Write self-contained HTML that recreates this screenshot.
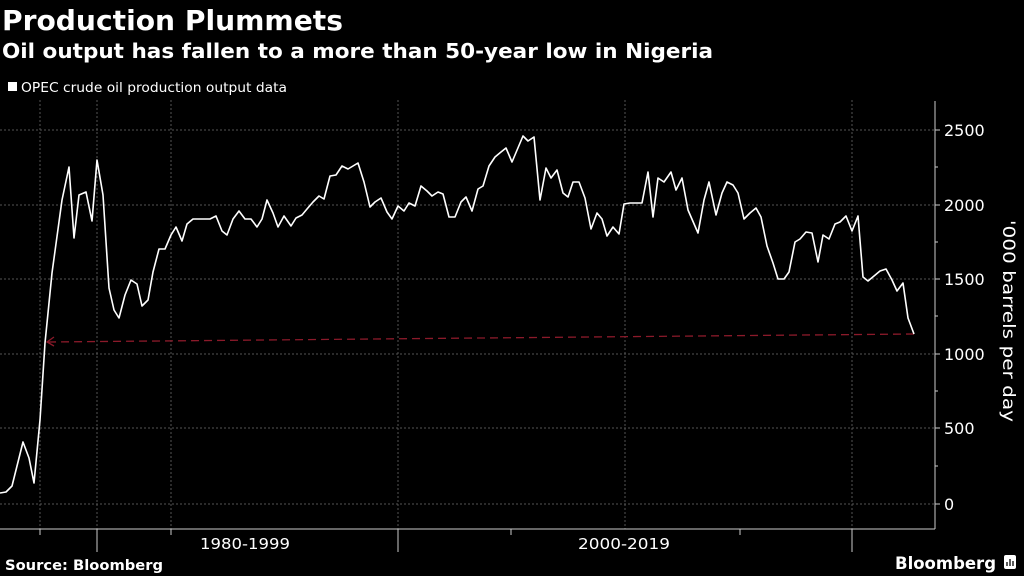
<!DOCTYPE html>
<html><head><meta charset="utf-8"><style>
html,body{margin:0;padding:0;background:#000;width:1024px;height:576px;overflow:hidden}
svg{display:block}
text{font-family:"DejaVu Sans","Liberation Sans",sans-serif;fill:#fff}
</style></head><body>
<svg width="1024" height="576" viewBox="0 0 1024 576">
<rect width="1024" height="576" fill="#000"/>
<text x="2" y="30" font-size="28" font-weight="bold" textLength="341" lengthAdjust="spacingAndGlyphs">Production Plummets</text>
<text x="2" y="58" font-size="20" font-weight="bold" textLength="711" lengthAdjust="spacingAndGlyphs">Oil output has fallen to a more than 50-year low in Nigeria</text>
<rect x="8" y="82" width="9" height="9" fill="#fff"/>
<text x="21" y="92" font-size="13" textLength="266" lengthAdjust="spacingAndGlyphs">OPEC crude oil production output data</text>
<g stroke="#555" stroke-width="1" stroke-dasharray="2,2">
<line x1="0" y1="130" x2="935" y2="130"/><line x1="0" y1="205" x2="935" y2="205"/>
<line x1="0" y1="279" x2="935" y2="279"/><line x1="0" y1="354" x2="935" y2="354"/>
<line x1="0" y1="428" x2="935" y2="428"/><line x1="0" y1="504" x2="935" y2="504"/>
<line x1="40" y1="100" x2="40" y2="529"/><line x1="97" y1="100" x2="97" y2="529"/>
<line x1="171" y1="100" x2="171" y2="529"/><line x1="398" y1="100" x2="398" y2="529"/>
<line x1="625" y1="100" x2="625" y2="529"/><line x1="852" y1="100" x2="852" y2="529"/>
</g>
<g stroke="#ccc" stroke-width="1">
<line x1="935" y1="101" x2="935" y2="529"/>
<line x1="0" y1="529" x2="935" y2="529"/>
<line x1="935" y1="130" x2="940" y2="130"/><line x1="935" y1="167" x2="938" y2="167"/>
<line x1="935" y1="205" x2="940" y2="205"/><line x1="935" y1="242" x2="938" y2="242"/>
<line x1="935" y1="279" x2="940" y2="279"/><line x1="935" y1="316" x2="938" y2="316"/>
<line x1="935" y1="354" x2="940" y2="354"/><line x1="935" y1="391" x2="938" y2="391"/>
<line x1="935" y1="428" x2="940" y2="428"/><line x1="935" y1="466" x2="938" y2="466"/>
<line x1="935" y1="504" x2="940" y2="504"/>
<line x1="97" y1="529" x2="97" y2="552"/><line x1="398" y1="529" x2="398" y2="552"/><line x1="852" y1="529" x2="852" y2="552"/>
<line x1="40" y1="529" x2="40" y2="535"/><line x1="171" y1="529" x2="171" y2="535"/>
<line x1="511" y1="529" x2="511" y2="535"/><line x1="740" y1="529" x2="740" y2="535"/>
</g>
<g font-size="16">
<text x="944" y="136">2500</text><text x="944" y="211">2000</text>
<text x="944" y="285">1500</text><text x="944" y="360">1000</text>
<text x="944" y="434">500</text><text x="944" y="510">0</text>
</g>
<text transform="translate(1003,220) rotate(90)" font-size="17" textLength="202" lengthAdjust="spacingAndGlyphs">'000 barrels per day</text>
<text x="200" y="549" font-size="15" textLength="90" lengthAdjust="spacingAndGlyphs">1980-1999</text>
<text x="578" y="549" font-size="15" textLength="92" lengthAdjust="spacingAndGlyphs">2000-2019</text>
<line x1="914" y1="334" x2="48" y2="342" stroke="#8b1a2a" stroke-width="1.3" stroke-dasharray="8,5"/>
<polyline points="54,337 47,342 54,346" fill="none" stroke="#8b1a2a" stroke-width="1.3"/>
<polyline fill="none" stroke="#fff" stroke-width="1.6" stroke-linejoin="round" points="0,493 6,492 12,486 23,442 29,458 34,483 40,420 45,343 52,273 62,200 69,167 74,238 79,195 86,192 92,221 97,160 103,195 109,288 114,310 119,318 125,295 131,280 137,284 142,306 148,300 153,272 159,249 165,249 171,235 176,227 182,241 187,224 193,219 210,219 216,216 222,231 227,235 233,219 239,211 245,219 251,219 257,227 262,219 267,200 273,213 278,227 284,216 291,226 296,218 302,215 307,209 313,202 319,196 324,199 330,176 336,175 342,166 348,169 358,163 364,182 370,207 375,202 381,198 387,212 392,219 398,206 404,211 409,203 415,206 421,186 427,191 432,196 438,192 443,194 449,217 455,217 461,202 466,197 472,211 478,189 483,186 489,166 495,157 501,152 506,148 512,162 523,136 528,141 534,137 540,200 546,168 551,178 557,170 563,193 568,197 573,182 579,182 585,198 591,229 597,213 602,219 607,236 613,227 619,234 624,204 630,203 642,203 648,172 653,217 658,178 664,182 671,172 676,190 682,178 688,210 698,233 704,200 709,182 716,215 722,193 727,182 733,185 738,193 744,219 750,213 756,208 761,217 767,246 773,263 778,279 784,279 789,272 795,242 800,239 806,232 812,233 818,262 823,235 829,239 835,224 840,222 846,216 852,231 858,216 863,277 868,281 874,276 880,271 886,269 892,280 897,291 903,283 908,318 914,334"/>
<text x="5" y="570" font-size="14" font-weight="bold" textLength="158" lengthAdjust="spacingAndGlyphs">Source: Bloomberg</text>
<text x="895" y="569" font-size="17" font-weight="bold" textLength="101" lengthAdjust="spacingAndGlyphs">Bloomberg</text>
<rect x="1004" y="555" width="12" height="14" rx="2" fill="#fff"/>
<g stroke="#000" stroke-width="1.3"><line x1="1007" y1="566" x2="1007" y2="562"/><line x1="1010" y1="566" x2="1010" y2="559"/><line x1="1013" y1="566" x2="1013" y2="561"/></g>
</svg>
</body></html>
